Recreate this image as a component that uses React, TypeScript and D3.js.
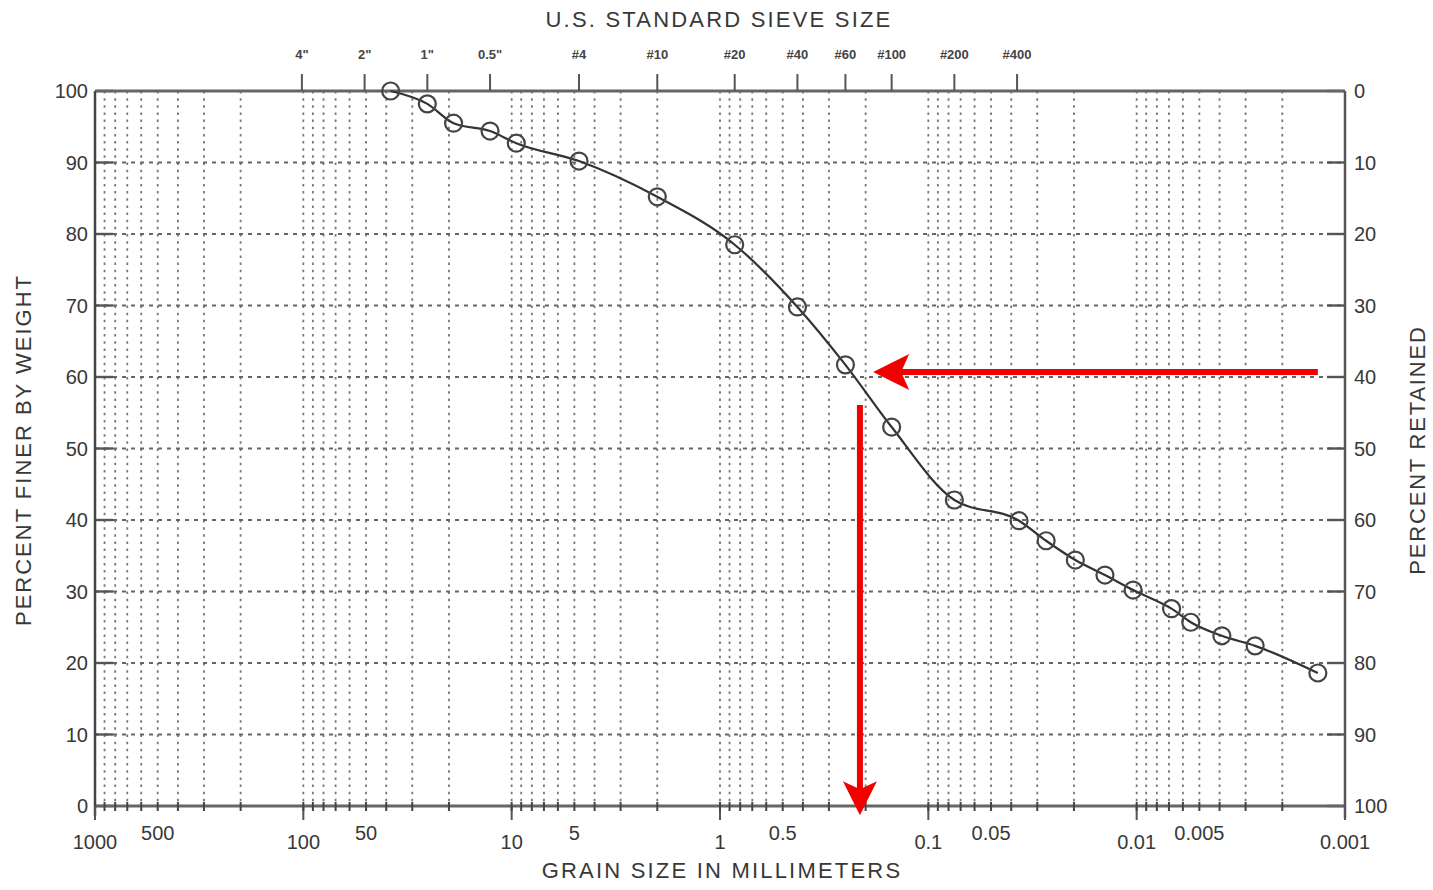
import React from "react";
import * as d3 from "d3";

// ---- data ----
const grainSizes = [38.1, 25.4, 19.0, 12.7, 9.5, 4.75, 2.0, 0.85, 0.425, 0.25, 0.15, 0.075, 0.0367, 0.0272, 0.0197, 0.0142, 0.0104, 0.0068, 0.0055, 0.0039, 0.0027, 0.00135];
const percentFiner = [100, 98.2, 95.5, 94.4, 92.7, 90.2, 85.2, 78.5, 69.8, 61.7, 53.0, 42.8, 39.9, 37.1, 34.4, 32.3, 30.2, 27.6, 25.7, 23.8, 22.4, 18.6];

const sieveLabels = ['4"', '2"', '1"', '0.5"', "#4", "#10", "#20", "#40", "#60", "#100", "#200", "#400"];
const sieveSizes = [101.6, 50.8, 25.4, 12.7, 4.75, 2.0, 0.85, 0.425, 0.25, 0.15, 0.075, 0.0375];

const decadeTicks = [1000, 100, 10, 1, 0.1, 0.01, 0.001];
const decadeLabels = ["1000", "100", "10", "1", "0.1", "0.01", "0.001"];
const halfTicks = [500, 50, 5, 0.5, 0.05, 0.005];
const halfLabels = ["500", "50", "5", "0.5", "0.05", "0.005"];
const percentTicks = [0, 10, 20, 30, 40, 50, 60, 70, 80, 90, 100];

// D60 annotation (red arrows)
const arrowPercent = 60.7;
const arrowStartSize = 0.00135;
const arrowTipSize = 0.184;
const d60Size = 0.213;
const d60StartPercent = 56.1;
const d60EndPercent = -1.3;

const W = 1433;
const H = 890;
const left = 95, right = 1345, top = 91, bottom = 806;

export default function App() {
  const x = d3.scaleLog().domain([1000, 0.001]).range([left, right]);
  const y = d3.scaleLinear().domain([0, 100]).range([bottom, top]);

  // minor gridlines 1..9 in each decade
  const minor: number[] = [];
  for (let e = 2; e >= -3; e--) {
    for (let m = 1; m <= 9; m++) {
      const v = m * Math.pow(10, e);
      if (v < 1000 && v > 0.001) minor.push(v);
    }
  }

  const pts = grainSizes.map((g, i) => [x(g), y(percentFiner[i])] as [number, number]);
  const line = d3.line().curve(d3.curveMonotoneX)(pts) || "";

  const textColor = "#383838";
  const font = "'Liberation Sans', Arial, sans-serif";

  const hx1 = x(arrowStartSize), hx2 = x(arrowTipSize), hy = y(arrowPercent);
  const vx = x(d60Size), vy1 = y(d60StartPercent), vy2 = y(d60EndPercent);

  return (
    <svg width={W} height={H} style={{ position: "absolute", left: 0, top: 0, background: "#fff" }} fontFamily={font}>
      <rect width={W} height={H} fill="#fff" />
      {/* vertical gridlines */}
      {minor.map((v, i) => (
        <line key={"v" + i} x1={x(v)} x2={x(v)} y1={top} y2={bottom} stroke="#777" strokeWidth={1.8} strokeDasharray="2.5,4.65" />
      ))}
      {/* horizontal gridlines */}
      {percentTicks.filter((p) => p > 0 && p < 100).map((p) => (
        <line key={"h" + p} x1={left} x2={right} y1={y(p)} y2={y(p)} stroke="#666" strokeWidth={1.8} strokeDasharray="4,5" />
      ))}
      {/* left / right ticks */}
      {percentTicks.map((p) => (
        <g key={"t" + p}>
          <line x1={left} x2={left + 18} y1={y(p)} y2={y(p)} stroke="#555" strokeWidth={2.4} />
          <line x1={right - 18} x2={right} y1={y(p)} y2={y(p)} stroke="#555" strokeWidth={2.4} />
        </g>
      ))}
      {/* frame */}
      <line x1={left} x2={right} y1={top} y2={top} stroke="#666" strokeWidth={3} />
      <line x1={left} x2={right} y1={bottom} y2={bottom} stroke="#666" strokeWidth={3} />
      <line x1={left} x2={left} y1={top} y2={bottom + 10} stroke="#444" strokeWidth={2.5} />
      <line x1={right} x2={right} y1={top} y2={bottom + 12} stroke="#555" strokeWidth={2.5} />
      {/* bottom ticks */}
      {decadeTicks.map((v) => (
        <line key={"bt" + v} x1={x(v)} x2={x(v)} y1={bottom} y2={bottom + 14} stroke="#555" strokeWidth={2} />
      ))}
      {minor.map((v, i) => (
        <line key={"mt" + i} x1={x(v)} x2={x(v)} y1={bottom - 4} y2={bottom + 5} stroke="#444" strokeWidth={2} />
      ))}
      {/* top sieve ticks & labels */}
      {sieveSizes.map((s, i) => (
        <g key={"s" + i}>
          <line x1={x(s)} x2={x(s)} y1={top - 17} y2={top} stroke="#555" strokeWidth={2} />
          <text x={x(s)} y={59} fontSize={13} textAnchor="middle" fill="#444" fontWeight="bold">{sieveLabels[i]}</text>
        </g>
      ))}
      <text x={719} y={27} fontSize={22} textAnchor="middle" fill={textColor} letterSpacing={2.2}>U.S. STANDARD SIEVE SIZE</text>
      {/* bottom labels */}
      {decadeTicks.map((v, i) => (
        <text key={"dl" + v} x={x(v)} y={849} fontSize={20} textAnchor="middle" fill={textColor}>{decadeLabels[i]}</text>
      ))}
      {halfTicks.map((v, i) => (
        <text key={"hl" + v} x={x(v)} y={840} fontSize={20} textAnchor="middle" fill={textColor}>{halfLabels[i]}</text>
      ))}
      <text x={722} y={878} fontSize={22} textAnchor="middle" fill={textColor} letterSpacing={2.2}>GRAIN SIZE IN MILLIMETERS</text>
      {/* left / right labels */}
      {percentTicks.map((p) => (
        <g key={"l" + p}>
          <text x={88} y={y(p) + 7} fontSize={20} textAnchor="end" fill={textColor}>{p}</text>
          <text x={1354} y={y(p) + 7} fontSize={20} textAnchor="start" fill={textColor}>{100 - p}</text>
        </g>
      ))}
      <text transform={`translate(31,450) rotate(-90)`} fontSize={22} textAnchor="middle" fill={textColor} letterSpacing={2}>PERCENT FINER BY WEIGHT</text>
      <text transform={`translate(1425,450) rotate(-90)`} fontSize={22} textAnchor="middle" fill={textColor} letterSpacing={1.8}>PERCENT RETAINED</text>
      {/* curve */}
      <path d={line} fill="none" stroke="#333" strokeWidth={2.2} />
      {pts.map((p, i) => (
        <circle key={"c" + i} cx={p[0]} cy={p[1]} r={8.5} fill="none" stroke="#444" strokeWidth={2.2} />
      ))}
      {/* red arrows */}
      <line x1={hx1} x2={hx2 + 25} y1={hy} y2={hy} stroke="#f20000" strokeWidth={6} />
      <path d={`M${hx2},${hy} L${hx2 + 36},${hy - 18} L${hx2 + 28},${hy} L${hx2 + 36},${hy + 18} Z`} fill="#f20000" />
      <line x1={vx} x2={vx} y1={vy1} y2={vy2 - 25} stroke="#f20000" strokeWidth={6} />
      <path d={`M${vx},${vy2} L${vx - 17},${vy2 - 34} L${vx},${vy2 - 26} L${vx + 17},${vy2 - 34} Z`} fill="#f20000" />
    </svg>
  );
}
